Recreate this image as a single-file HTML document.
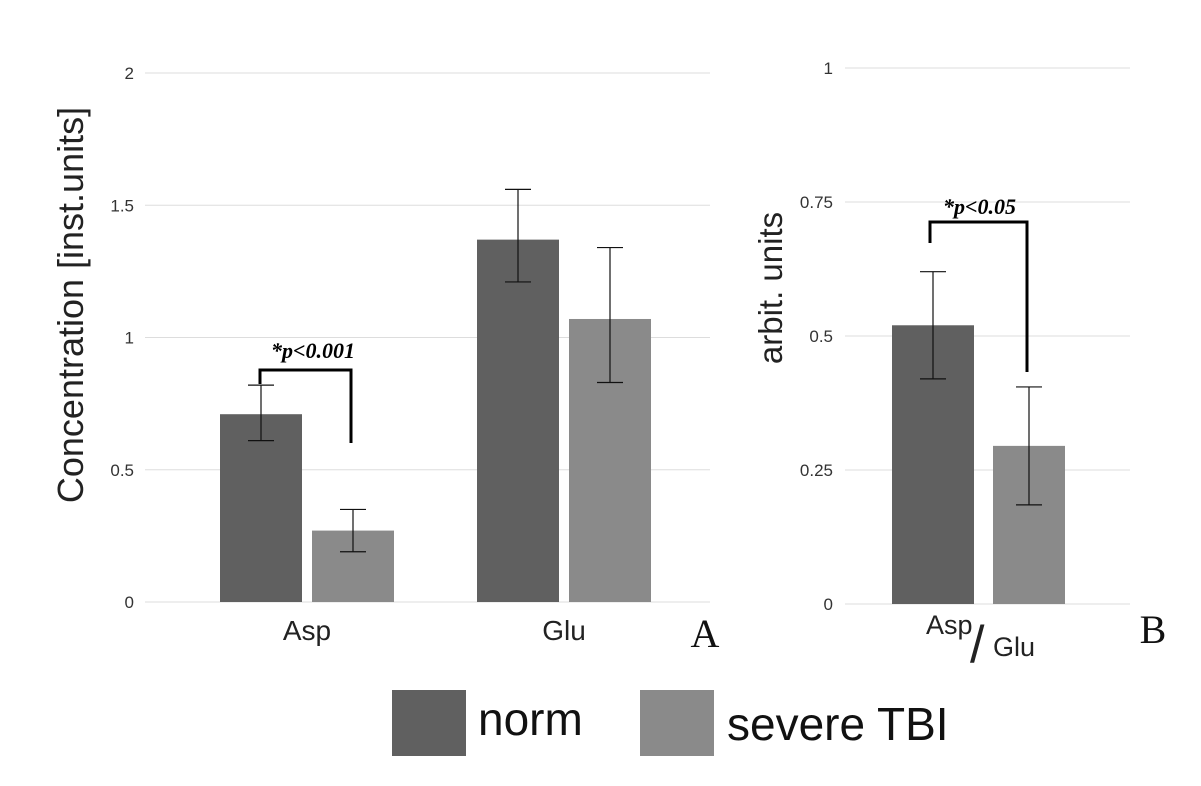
<!DOCTYPE html>
<html><head><meta charset="utf-8"><style>
body{margin:0;background:#fff;}
svg{display:block;font-family:"Liberation Sans",sans-serif;}
</style></head><body>
<svg id="c" width="1201" height="786">
<g id="gA"></g>
<g id="gB"></g>
<text x="0" y="0" transform="translate(83,305) rotate(-90)" text-anchor="middle" font-size="36" fill="#222">Concentration [inst.units]</text>
<text x="0" y="0" transform="translate(782,288) rotate(-90)" text-anchor="middle" font-size="33" fill="#222">arbit. units</text>
<text x="705" y="647" font-family="Liberation Serif,serif" font-size="40" text-anchor="middle" fill="#111">A</text>
<text x="1153" y="643" font-family="Liberation Serif,serif" font-size="40" text-anchor="middle" fill="#111">B</text>
<g>
<text x="926" y="634" font-size="27" fill="#222">Asp</text>
<text x="970" y="662" font-size="52" fill="#222">/</text>
<text x="993" y="656" font-size="27" fill="#222">Glu</text>
</g>
<rect x="392" y="690" width="74" height="66" fill="#606060"/>
<text x="478" y="735" font-size="46" fill="#111">norm</text>
<rect x="640" y="690" width="74" height="66" fill="#8a8a8a"/>
<text x="727" y="740" font-size="46" fill="#111">severe TBI</text>
</svg>
<script>
const catsA=["Asp","Glu"];
const normA=[0.71,1.37];
const tbiA=[0.27,1.07];
const normAErr=[[0.61,0.82],[1.21,1.56]];
const tbiAErr=[[0.19,0.35],[0.83,1.34]];
const ticksA=[0,0.5,1,1.5,2];
const normB=[0.52];
const tbiB=[0.295];
const normBErr=[[0.42,0.62]];
const tbiBErr=[[0.185,0.405]];
const ticksB=[0,0.25,0.5,0.75,1];
const NS="http://www.w3.org/2000/svg";
function mk(p,t,a){const e=document.createElementNS(NS,t);for(const k in a)e.setAttribute(k,a[k]);p.appendChild(e);return e;}
const yA=v=>602-v*264.5, yB=v=>604-v*536;
const gA=document.getElementById('gA'), gB=document.getElementById('gB');
function axis(g,ticks,y,x0,x1,lx,fmt){
 ticks.forEach(t=>{
  const l=mk(g,'line',{x1:x0,x2:x1,y1:y(t),y2:y(t),stroke:'#ddd','stroke-width':1});
  
  
  const tx=mk(g,'text',{x:lx,y:y(t)+6,'text-anchor':'end','font-size':17,fill:'#333'});
  tx.textContent=fmt(t);
  
  
 });
}
axis(gA,ticksA,yA,145,710,134,t=>String(t));
axis(gB,ticksB,yB,845,1130,833,t=>String(t));
function bar(g,x,w,v,err,y,col,name){
 const r=mk(g,'rect',{x:x,y:y(v),width:w,height:y(0)-y(v),fill:col});
 
 
 const c=x+w/2;
 const e=mk(g,'path',{d:`M${c-13},${y(err[0])}H${c+13}M${c},${y(err[0])}V${y(err[1])}M${c-13},${y(err[1])}H${c+13}`,stroke:'#111','stroke-width':1.2,fill:'none'});
 
 
}
const startsA=[220,477];
catsA.forEach((c,i)=>{
 bar(gA,startsA[i],82,normA[i],normAErr[i],yA,'#606060','bar-norm-'+c.toLowerCase());
 bar(gA,startsA[i]+92,82,tbiA[i],tbiAErr[i],yA,'#8a8a8a','bar-tbi-'+c.toLowerCase());
 const t=mk(gA,'text',{x:startsA[i]+87,y:640,'text-anchor':'middle','font-size':28,fill:'#222'});
 t.textContent=c;
 
 
});
bar(gB,892,82,normB[0],normBErr[0],yB,'#606060','bar-norm-ratio');
bar(gB,993,72,tbiB[0],tbiBErr[0],yB,'#8a8a8a','bar-tbi-ratio');
function sig(g,xa,ya,yt,xb,yb,label,tx,ty){
 const p=mk(g,'path',{d:`M${xa},${ya}V${yt}H${xb}V${yb}`,stroke:'#000','stroke-width':3,fill:'none'});
 
 
 const t=mk(g,'text',{x:tx,y:ty,'font-family':'Liberation Serif,serif','font-style':'italic','font-weight':'bold','font-size':22,fill:'#000'});
 t.textContent=label;
 
 
}
sig(gA,260,384,370,351,443,'*p<0.001',271,358);
sig(gB,930,243,222,1027,372,'*p<0.05',943,214);
</script>
</body></html>
